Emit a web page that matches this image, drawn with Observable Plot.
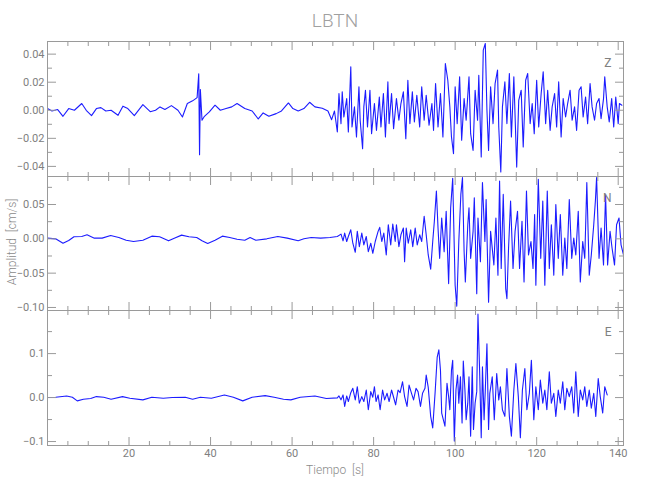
<!DOCTYPE html>
<html><head><meta charset="utf-8">
<script src="https://cdn.jsdelivr.net/npm/d3@7"></script>
<script src="https://cdn.jsdelivr.net/npm/@observablehq/plot@0.6"></script>
<style>
body{margin:0;background:#fff;}
#wrap{position:relative;width:650px;height:500px;font-family:Roboto,"Liberation Sans",sans-serif;overflow:hidden;}
.pan{position:absolute;left:0;}
.txt{position:absolute;color:#8a8a8a;white-space:pre;font-weight:300;}
</style></head><body>
<div id="wrap">
  <div class="txt" id="title" style="left:0;width:670px;text-align:center;top:9px;font-size:19px;color:#a0a0a0;">LBTN</div>
  <div class="txt" id="ylab" style="left:12px;top:242px;font-size:12px;transform:translate(-50%,-50%) rotate(-90deg);">Amplitud  [cm/s]</div>
  <div class="txt" id="xlab" style="left:0;width:670px;text-align:center;top:463px;font-size:12px;">Tiempo  [s]</div>
</div>
<script>
// ---- Data ----
const timeZ = [0.0,1.1,2.5,3.8,5.2,6.6,8.4,9.5,10.8,12.0,13.1,14.3,15.6,17.3,18.5,19.7,21.3,23.4,25.2,26.5,27.6,28.8,30.4,32.0,33.1,34.3,35.6,36.7,37.1,37.3,37.5,37.9,38.5,39.7,41.1,42.4,43.8,45.2,46.5,48.4,50.2,51.7,52.9,54.3,56.1,57.4,59.1,60.2,61.5,62.9,64.3,65.6,67.4,68.8,69.7,70.4,
71.1,71.5,72.0,72.3,72.7,73.4,73.8,74.4,74.7,75.3,75.8,76.4,76.7,77.3,77.6,78.0,78.5,79.1,79.5,80.2,80.7,81.4,81.8,82.4,82.9,83.5,83.8,84.4,84.9,85.6,86.2,86.7,87.3,87.9,88.4,88.9,89.5,90.0,90.6,91.3,91.8,92.4,92.9,93.6,94.3,94.7,95.2,95.8,96.4,97.0,97.6,98.2,98.7,99.1,99.6,100.0,100.5,101.1,101.6,102.2,102.7,103.4,103.8,104.4,104.9,105.5,105.8,106.4,106.9,107.4,107.8,108.2,108.7,109.3,109.8,110.4,110.7,111.2,111.6,112.2,112.7,113.3,113.8,114.4,115.1,115.6,116.2,116.7,117.3,117.8,118.4,118.9,119.4,120.0,120.5,121.1,121.6,122.2,122.7,123.3,123.8,124.4,124.9,125.4,126.0,126.5,127.1,127.6,128.2,128.7,129.3,129.8,130.4,130.9,131.4,132.0,132.5,133.1,133.6,134.2,134.7,135.3,135.8,136.4,136.7,137.3,137.8,138.4,138.9,139.4,140.0,140.3,140.9];
const ampZ = [0.0012,-0.0005,0.0005,-0.0043,0.0012,0,0.0048,0,-0.0038,0.0012,0.0019,-0.0005,0,-0.0036,0.0029,0.0012,-0.0038,0.0040,-0.001,0,0.0024,0.0005,0.0033,0,-0.0048,0.0048,0.0067,0.009,0.026,-0.0317,0.0148,-0.0071,-0.0043,-0.0012,0.0036,0,0.0012,0.0024,0.0048,0.0012,-0.0005,-0.0062,-0.0019,-0.0043,-0.0024,-0.0005,0.0052,0.0012,-0.0005,0.0012,0.0057,0.0024,0.0014,-0.0005,-0.0067,-0.0005,
-0.0155,0.0119,-0.0095,0.0131,-0.0048,0.0083,-0.0155,0.031,-0.0119,0.0024,-0.019,0.0167,-0.0071,-0.0274,0.0024,0.0143,-0.0119,0.0143,-0.0167,0.0048,-0.0143,0.0095,-0.0119,0.0119,-0.019,0.0202,-0.0095,0.0119,-0.0131,0.0083,-0.0071,0.0048,0.0131,-0.0202,0.0214,-0.0095,0.0131,-0.0083,0.0107,-0.0119,0.0167,-0.0071,0.0107,-0.0107,0.0048,-0.0143,0.019,-0.0119,0.0119,-0.019,0.0333,0.0214,0.0024,-0.019,-0.031,0.0167,-0.0095,0.0238,-0.0214,0.0083,-0.0071,0.0238,-0.0167,-0.0286,0.0143,-0.0071,0.025,-0.0333,0.0429,0.0476,0,-0.0286,0.0167,-0.0095,0.019,0.0286,-0.0119,-0.044,0.0024,0.0202,-0.0095,0.0262,-0.019,0.0238,-0.0405,0.0071,0.0143,-0.0262,0.0214,0.0262,-0.0095,0.0048,-0.0167,0.0214,-0.0119,0.0119,0.0274,-0.0095,0.0143,-0.0143,0.0024,0.0119,-0.0119,0.0202,-0.019,0.0083,-0.0048,0.0048,0.0143,-0.0071,0.0024,-0.0143,0.0143,0.0167,-0.0048,0.0095,-0.0095,0.019,0.0024,-0.0071,0.0048,0.0083,-0.006,0.0083,0.0238,0.0024,-0.0083,0.0083,-0.0119,0.0095,-0.0095,0.0048,0.0036];

const timeN = [0,2.0,3.8,5.2,6.5,8.4,9.7,11.5,13.4,15.5,17.5,19.3,21.1,23.4,25.6,27.5,29.7,31.1,32.9,34.7,36.6,37.9,39.3,41.1,42.9,44.7,46.5,48.4,49.7,51.1,53.8,56.5,58.8,61.5,62.9,64.7,67.0,69.3,71.1,
72.0,72.5,72.9,73.4,73.8,74.4,74.9,75.5,76.0,76.5,77.1,77.6,78.2,78.7,79.3,79.8,80.4,81.1,81.5,82.0,82.5,83.1,83.6,84.2,84.7,85.3,85.6,86.2,86.7,87.3,87.6,88.0,88.5,89.1,89.6,90.2,90.7,91.3,91.8,92.4,92.9,93.4,94.0,94.5,94.9,95.4,95.8,96.2,96.7,97.3,97.8,98.4,98.9,99.4,100.0,100.4,100.9,101.4,101.8,102.2,102.5,103.1,103.4,103.8,104.4,104.7,105.3,105.6,106.2,106.7,107.3,107.6,108.2,108.7,109.5,110.0,110.5,110.9,111.3,111.8,112.4,112.7,113.1,113.6,114.2,114.7,115.3,115.8,116.4,116.9,117.5,118.0,118.6,119.1,119.5,119.8,120.4,121.0,121.5,122.0,122.6,123.1,123.6,124.2,124.7,125.3,125.8,126.4,126.9,127.4,128.0,128.6,129.1,129.6,130.2,130.7,131.3,131.8,132.3,132.9,133.4,134.0,134.4,134.7,135.3,135.8,136.4,136.9,137.4,138.0,138.5,139.1,139.6,140.2,140.7,141.3];
const ampN = [0.001,0,-0.0064,-0.0025,0.003,0.0034,0.0059,0.001,0.001,0.0049,0.002,-0.002,-0.0039,-0.002,0.0039,0.003,-0.0029,0.001,0.0054,0.003,0.002,-0.0029,-0.0069,-0.002,0.0039,0.002,-0.0005,-0.002,0.002,-0.002,0,0.0034,0.001,-0.0029,0,0.002,0.001,0.002,0.0034,
0.0069,-0.0029,0.0083,-0.0039,0.0034,0.0132,-0.0064,-0.0196,0.0108,-0.0113,0.0083,-0.0088,0.0034,-0.0186,-0.0064,-0.0211,-0.0039,0.0108,0.0167,-0.0039,0.0083,-0.0235,0.0206,-0.0088,0.0216,-0.0039,0.0206,-0.0113,0.0059,0.0157,-0.0333,0.0157,-0.0064,0.0132,-0.0113,0.0157,-0.0088,0.0059,-0.0039,0.0328,0.0059,-0.0235,-0.0441,-0.0039,0.0255,0.0696,0.0157,-0.0284,0.0304,-0.0186,0.0402,-0.0652,0.0451,0.0882,-0.0676,-0.098,-0.0039,0.0647,0.0892,-0.0186,-0.0627,0.0206,0.0451,-0.0284,0.0108,0.0598,-0.0799,0.0304,-0.0333,0.0819,-0.0039,0.0574,-0.0922,0.0108,-0.0382,0.0304,-0.0529,0.0843,-0.0431,0.0647,-0.0725,-0.0873,-0.0137,0.0549,-0.0431,0.0108,0.0402,-0.0431,0.0255,-0.0627,0.0696,-0.0235,-0.0039,-0.0431,0.0353,-0.0676,0.0868,-0.0284,0.0549,-0.0676,0.0696,-0.0431,0.0206,-0.0529,0.05,-0.0284,0.0353,-0.0529,0.001,-0.0431,0.0574,-0.0284,0.001,-0.0235,0.0402,-0.0627,-0.0039,-0.0284,0.0819,-0.0529,-0.0235,0.0206,0.0549,0.0892,-0.0284,0.0157,-0.0382,0.0647,-0.0382,0.0108,-0.0137,-0.0382,0.0206,0.0304,-0.0088,-0.0235];

const timeE = [0,2.0,4.7,6.1,7.3,8.8,10.6,12.0,13.8,15.6,18.4,20.2,23.4,25.6,28.4,30.6,33.8,35.6,37.5,40.2,43.4,45.6,47.9,50.2,53.4,55.6,57.9,59.7,62.0,65.6,68.4,71.1,
71.5,72.0,72.5,72.9,73.4,73.8,74.4,74.9,75.5,76.0,76.5,77.1,77.6,78.2,78.7,79.3,79.8,80.2,80.6,81.1,81.6,82.2,82.7,83.3,83.8,84.4,84.9,85.4,86.0,86.5,87.1,87.6,88.2,88.7,89.3,89.8,90.4,90.9,91.5,92.0,92.6,92.9,93.4,94.0,94.5,95.1,95.6,96.0,96.4,96.7,97.1,97.5,98.0,98.4,98.7,99.1,99.4,99.8,100.2,100.6,100.9,101.3,101.7,102.0,102.4,102.7,103.1,103.4,103.8,104.2,104.5,104.9,105.3,105.6,106.0,106.4,106.7,107.1,107.4,107.8,108.2,108.5,109.1,109.6,110.2,110.7,111.1,111.6,112.2,112.7,113.3,113.8,114.4,114.9,115.5,116.0,116.5,117.1,117.6,118.2,118.7,119.3,119.8,120.4,120.9,121.5,122.0,122.5,123.1,123.6,124.2,124.7,125.3,125.8,126.4,126.9,127.4,128.0,128.6,129.1,129.6,130.2,130.7,131.3,131.8,132.3,132.9,133.4,134.0,134.5,135.1,135.6,136.2,136.7,137.3];
const ampE = [0,0.0008,0.0037,0.0007,-0.0075,-0.0037,-0.0022,0.0022,0.0007,-0.0037,0.0022,-0.0015,-0.0052,0.0007,-0.0015,0,0.0007,-0.0037,0.0007,-0.0015,0.006,0.0007,-0.0075,0.0007,0.0045,0.0007,-0.0037,-0.0052,0.0007,0.0037,-0.0022,-0.0007,
0.0037,-0.0052,0.006,-0.0202,0.0037,-0.009,0.0112,0.021,-0.0052,0.0247,-0.0127,0.0022,-0.009,0.0172,-0.0277,0.0135,0.0007,0.0247,-0.009,0.006,-0.0277,0.0172,-0.0052,0.0097,-0.009,0.0172,0.0007,-0.0165,0.0172,0.0112,0.036,0.0022,-0.0202,0.0285,0.0097,-0.0052,0.021,0.0135,-0.0202,0.0097,0.021,0.051,0.0232,-0.0427,-0.069,0.0135,0.0922,0.1087,0.0622,-0.0352,-0.0502,-0.0652,0.0322,0.0022,-0.0277,0.0622,0.0847,-0.099,0.0172,0.051,-0.0127,0.0472,-0.0577,0.0832,0.0172,-0.0502,-0.0127,0.0472,-0.0877,0.0697,-0.0727,-0.0127,0.0135,0.1897,0.0622,-0.0915,0.0697,-0.0502,0.0172,0.1222,-0.0727,0.0097,0.0472,-0.0502,0.0547,-0.0052,0.0247,-0.0277,-0.0427,0.066,-0.0427,-0.0877,0.0172,0.0772,0.0022,-0.0915,0.0172,0.066,-0.0277,0.0097,0.0847,-0.0502,0.0247,-0.0277,0.0397,-0.0127,0.0172,-0.0277,0.0585,-0.0127,0.0097,-0.0427,0.0172,-0.0127,0.036,-0.0277,0.021,0.0022,0.0247,-0.0352,0.0585,-0.0427,0.0172,-0.0052,0.0247,-0.0202,0.0172,-0.024,0.0097,-0.0427,0.0435,0.0022,-0.0352,0.0247,0.006];

const xDomain = [0, 141.3];
const xMajor = [20,40,60,80,100,120,140];
const xMinor = [5,10,15,25,30,35,45,50,55,65,70,75,85,90,95,105,110,115,125,130,135];

const yDomainZ = [-0.0472, 0.049], yMajorZ = [-0.04,-0.02,0,0.02,0.04], yMinorZ = [-0.03,-0.01,0.01,0.03];
const yDomainN = [-0.1044, 0.0908], yMajorN = [-0.10,-0.05,0,0.05], yMinorN = [-0.075,-0.025,0.025,0.075];
const yDomainE = [-0.109, 0.198], yMajorE = [-0.1,0,0.1], yMinorE = [-0.05,0.05,0.15];

const panelNames = ["Z","N","E"];

// ---- Drawing ----
const AX = "#9a9a9a", TX = "#808080";
const wrap = document.getElementById("wrap");
const noText = () => "";

function panel(times, amps, yDomain, yMajor, yMinor, yFmt, name, top, h, last) {
  const n = Math.min(times.length, amps.length);
  const data = times.slice(0, n).map((t, i) => ({t, v: amps[i]}));
  const marks = [
    Plot.line(data, {x: "t", y: "v", stroke: "#1c1cff", strokeWidth: 1.1, clip: true}),
    Plot.frame({stroke: AX}),
    Plot.axisY(yMajor, {anchor: "left", tickSize: -9, tickFormat: noText, label: null, stroke: AX}),
    Plot.axisY(yMinor, {anchor: "left", tickSize: -5, tickFormat: noText, label: null, stroke: AX}),
    Plot.axisY(yMajor, {anchor: "right", tickSize: -9, tickFormat: noText, label: null, stroke: AX}),
    Plot.axisY(yMinor, {anchor: "right", tickSize: -5, tickFormat: noText, label: null, stroke: AX}),
    Plot.axisY(yMajor, {anchor: "left", tickSize: 0, tickPadding: 3, tickFormat: d3.format(yFmt), label: null, fill: TX}),
    Plot.axisX(xMajor, {anchor: "top", tickSize: -8, tickFormat: noText, label: null, stroke: AX}),
    Plot.axisX(xMinor, {anchor: "top", tickSize: -4, tickFormat: noText, label: null, stroke: AX}),
    Plot.axisX(xMajor, {anchor: "bottom", tickSize: -8, tickFormat: noText, label: null, stroke: AX}),
    Plot.axisX(xMinor, {anchor: "bottom", tickSize: -4, tickFormat: noText, label: null, stroke: AX}),
    Plot.text([name], {text: d => d, frameAnchor: "top-right", dx: -12, dy: 17, textAnchor: "end", fill: TX, fontSize: 12})
  ];
  if (last) marks.push(Plot.axisX(xMajor, {anchor: "bottom", tickSize: 0, tickPadding: 4, tickFormat: d3.format("d"), label: null, fill: TX}));
  const svg = Plot.plot({
    width: 650, height: h + (last ? 40 : 0),
    marginLeft: 47, marginRight: 27, marginTop: 0, marginBottom: last ? 40 : 0,
    x: {domain: xDomain},
    y: {domain: yDomain},
    style: {fontFamily: "Roboto, 'Liberation Sans', sans-serif", fontSize: "11px", overflow: "visible", background: "transparent"},
    marks
  });
  svg.classList.add("pan");
  svg.style.top = top + "px";
  wrap.appendChild(svg);
}

panel(timeZ, ampZ, yDomainZ, yMajorZ, yMinorZ, ".2f", panelNames[0], 41, 135, false);
panel(timeN, ampN, yDomainN, yMajorN, yMinorN, ".2f", panelNames[1], 176, 134, false);
panel(timeE, ampE, yDomainE, yMajorE, yMinorE, ".1f", panelNames[2], 310, 135, true);
</script>
</body></html>
